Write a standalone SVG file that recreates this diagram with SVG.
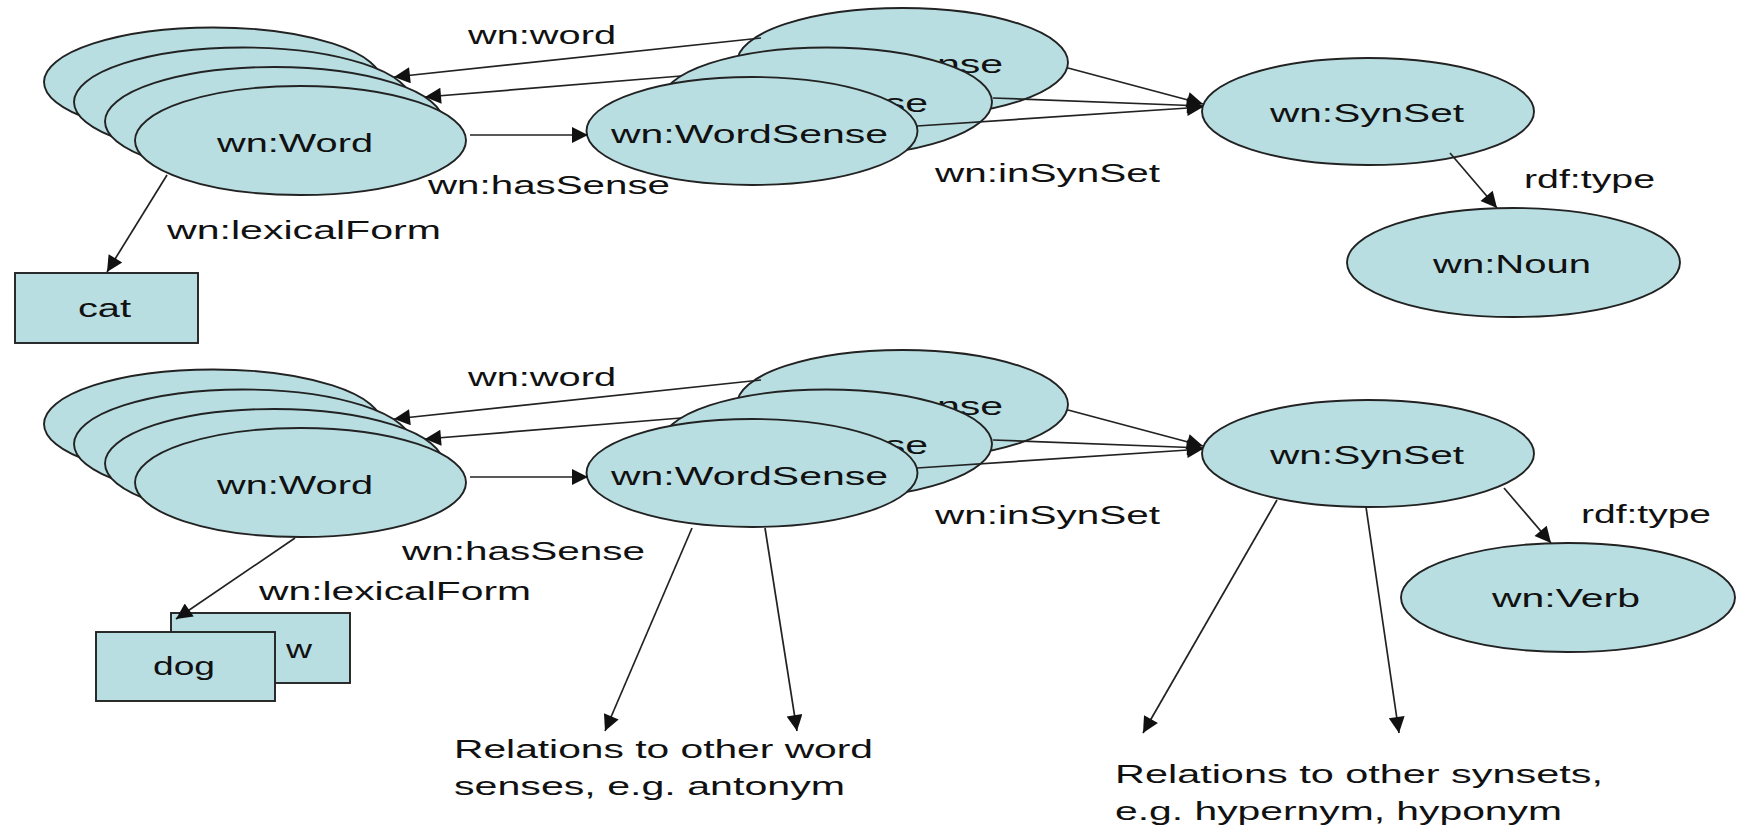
<svg xmlns="http://www.w3.org/2000/svg" width="1737" height="828" viewBox="0 0 1737 828">
<style>
.n{fill:#B8DEE2;stroke:#222;stroke-width:1.9}
.t{font-family:"Liberation Sans",Arial,sans-serif;font-size:26px;fill:#111}
.e{fill:none;stroke:#222;stroke-width:1.7;marker-end:url(#ah)}
</style>
<defs>
<marker id="ah" viewBox="0 0 10 10" refX="10" refY="5" markerUnits="userSpaceOnUse" markerWidth="22" markerHeight="16" orient="auto">
<path d="M0,0 L10,5 L0,10 z" fill="#111"/>
</marker>
</defs>
<rect width="1737" height="828" fill="#fff"/>

<!-- TOP -->
<g id="word-top">
<ellipse class="n" cx="213" cy="82" rx="169" ry="54.5"/>
<ellipse class="n" cx="243" cy="102" rx="169" ry="54.5"/>
<ellipse class="n" cx="274" cy="121.5" rx="169" ry="54.5"/>
<ellipse class="n" cx="300.5" cy="140.5" rx="165.5" ry="54.5"/>
<text class="t" x="217" y="152" textLength="156" lengthAdjust="spacingAndGlyphs">wn:Word</text>
</g>
<g id="cat">
<rect class="n" x="15" y="273" width="183" height="70"/>
<text class="t" x="78" y="317" textLength="53" lengthAdjust="spacingAndGlyphs">cat</text>
</g>
<g id="wordsense-top">
<ellipse class="n" cx="902.5" cy="62.5" rx="165.5" ry="54.5"/>
<text class="t" x="726" y="73" textLength="277" lengthAdjust="spacingAndGlyphs">wn:WordSense</text>
<ellipse class="n" cx="826.5" cy="102" rx="165.5" ry="54.5"/>
<text class="t" x="651" y="112" textLength="277" lengthAdjust="spacingAndGlyphs">wn:WordSense</text>
<ellipse class="n" cx="752" cy="131" rx="165.5" ry="54"/>
<text class="t" x="611" y="143" textLength="277" lengthAdjust="spacingAndGlyphs">wn:WordSense</text>
</g>
<g id="synset-top">
<ellipse class="n" cx="1368" cy="111.5" rx="166" ry="53.5"/>
<text class="t" x="1270" y="122" textLength="194" lengthAdjust="spacingAndGlyphs">wn:SynSet</text>
</g>
<g id="noun">
<ellipse class="n" cx="1513.5" cy="262.5" rx="166.5" ry="54.5"/>
<text class="t" x="1433" y="273" textLength="158" lengthAdjust="spacingAndGlyphs">wn:Noun</text>
</g>

<!-- BOTTOM -->
<g id="word-bottom">
<ellipse class="n" cx="213" cy="424" rx="169" ry="54.5"/>
<ellipse class="n" cx="243" cy="444" rx="169" ry="54.5"/>
<ellipse class="n" cx="274" cy="463.5" rx="169" ry="54.5"/>
<ellipse class="n" cx="300.5" cy="482.5" rx="165.5" ry="54.5"/>
<text class="t" x="217" y="494" textLength="156" lengthAdjust="spacingAndGlyphs">wn:Word</text>
</g>
<g id="lexform-back">
<rect class="n" x="171" y="613" width="179" height="70"/>
<text class="t" x="286" y="658" textLength="26" lengthAdjust="spacingAndGlyphs">w</text>
</g>
<g id="dog">
<rect class="n" x="96" y="632" width="179" height="69"/>
<text class="t" x="153" y="675" textLength="62" lengthAdjust="spacingAndGlyphs">dog</text>
</g>
<g id="wordsense-bottom">
<ellipse class="n" cx="902.5" cy="404.5" rx="165.5" ry="54.5"/>
<text class="t" x="726" y="415" textLength="277" lengthAdjust="spacingAndGlyphs">wn:WordSense</text>
<ellipse class="n" cx="826.5" cy="444" rx="165.5" ry="54.5"/>
<text class="t" x="651" y="454" textLength="277" lengthAdjust="spacingAndGlyphs">wn:WordSense</text>
<ellipse class="n" cx="752" cy="473" rx="165.5" ry="54"/>
<text class="t" x="611" y="485" textLength="277" lengthAdjust="spacingAndGlyphs">wn:WordSense</text>
</g>
<g id="synset-bottom">
<ellipse class="n" cx="1368" cy="453.5" rx="166" ry="53.5"/>
<text class="t" x="1270" y="464" textLength="194" lengthAdjust="spacingAndGlyphs">wn:SynSet</text>
</g>
<g id="verb">
<ellipse class="n" cx="1568" cy="597.5" rx="167" ry="54.5"/>
<text class="t" x="1492" y="607" textLength="148" lengthAdjust="spacingAndGlyphs">wn:Verb</text>
</g>

<g id="connectors">
<line class="e" x1="761" y1="38" x2="394" y2="77"/>
<line class="e" x1="681" y1="76" x2="425" y2="97"/>
<line class="e" x1="470" y1="135" x2="588" y2="135"/>
<line class="e" x1="167" y1="175" x2="107" y2="272"/>
<line class="e" x1="1068" y1="68" x2="1203" y2="104"/>
<line class="e" x1="993" y1="98" x2="1203" y2="106"/>
<line class="e" x1="917" y1="126" x2="1203" y2="107"/>
<line class="e" x1="1450" y1="153" x2="1497" y2="208"/>

<line class="e" x1="761" y1="380" x2="394" y2="419"/>
<line class="e" x1="681" y1="418" x2="425" y2="439"/>
<line class="e" x1="470" y1="477" x2="588" y2="477"/>
<line class="e" x1="295" y1="538" x2="176" y2="619"/>
<line class="e" x1="1068" y1="410" x2="1203" y2="446"/>
<line class="e" x1="993" y1="440" x2="1203" y2="448"/>
<line class="e" x1="917" y1="468" x2="1203" y2="449"/>
<line class="e" x1="1504" y1="488" x2="1551" y2="543"/>
<line class="e" x1="692" y1="528" x2="605" y2="731"/>
<line class="e" x1="765" y1="528" x2="797" y2="731"/>
<line class="e" x1="1277" y1="500" x2="1143" y2="733"/>
<line class="e" x1="1366" y1="507" x2="1399" y2="733"/>
</g>

<g id="labels">
<text class="t" x="468" y="44" textLength="148" lengthAdjust="spacingAndGlyphs">wn:word</text>
<text class="t" x="428" y="194" textLength="242" lengthAdjust="spacingAndGlyphs">wn:hasSense</text>
<text class="t" x="167" y="239" textLength="274" lengthAdjust="spacingAndGlyphs">wn:lexicalForm</text>
<text class="t" x="935" y="182" textLength="225" lengthAdjust="spacingAndGlyphs">wn:inSynSet</text>
<text class="t" x="1524" y="188" textLength="131" lengthAdjust="spacingAndGlyphs">rdf:type</text>

<text class="t" x="468" y="386" textLength="148" lengthAdjust="spacingAndGlyphs">wn:word</text>
<text class="t" x="402" y="560" textLength="243" lengthAdjust="spacingAndGlyphs">wn:hasSense</text>
<text class="t" x="259" y="600" textLength="272" lengthAdjust="spacingAndGlyphs">wn:lexicalForm</text>
<text class="t" x="935" y="524" textLength="225" lengthAdjust="spacingAndGlyphs">wn:inSynSet</text>
<text class="t" x="1581" y="523" textLength="130" lengthAdjust="spacingAndGlyphs">rdf:type</text>

<text class="t" x="454" y="758" textLength="419" lengthAdjust="spacingAndGlyphs">Relations to other word</text>
<text class="t" x="454" y="795" textLength="391" lengthAdjust="spacingAndGlyphs">senses, e.g. antonym</text>
<text class="t" x="1115" y="783" textLength="488" lengthAdjust="spacingAndGlyphs">Relations to other synsets,</text>
<text class="t" x="1115" y="820" textLength="447" lengthAdjust="spacingAndGlyphs">e.g. hypernym, hyponym</text>
</g>
</svg>
